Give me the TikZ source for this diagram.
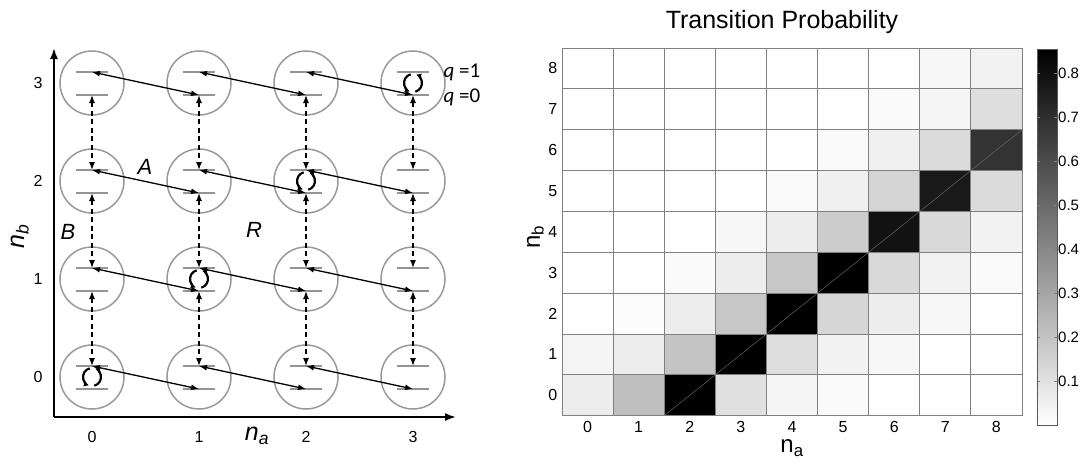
\documentclass[tikz,border=0pt]{standalone}
\usepackage{fontspec}
\setmainfont{Liberation Sans}
\newfontfamily\qfont{Carlito}
\usetikzlibrary{arrows.meta}

\tikzset{
  site/.style={circle,draw=black!40,line width=1.5pt,minimum size=64pt,inner sep=0pt},
  lvl/.style={black!42,line width=2.6pt},
  trans/.style={{Latex[length=8pt,width=6pt]}-{Latex[length=8pt,width=6pt]},line width=1.3pt},
  hop/.style={trans,dash pattern=on 5pt off 3.5pt},
  spin/.style={-{Latex[length=5pt,width=6pt]},line width=2.2pt},
  axis/.style={-{Latex[length=11pt,width=8pt]},line width=1.8pt},
  ticklab/.style={font=\fontsize{16}{16}\selectfont},
  letter/.style={font=\fontsize{22}{22}\selectfont\itshape},
  cell/.style={draw=black!50,line width=0.9pt}
}

\begin{document}
\begin{tikzpicture}[x=1pt,y=-1pt]
\useasboundingbox (0,0) rectangle (1085,464);

% ---- left: lattice of states
\draw[axis] (54,417) -- (54,48);
\draw[axis] (54,417) -- (456,417);
\foreach \i/\x in {0/92,1/199,2/306,3/413}
  \foreach \j/\y in {0/377,1/279,2/181,3/83} {
    \node[site] (s-\i-\j) at (\x,\y) {};
    \coordinate (u-\i-\j) at (\x,\y-11);
    \coordinate (l-\i-\j) at (\x,\y+12);
    \draw[lvl] (\x-16,\y-11) -- (\x+16,\y-11);
    \draw[lvl] (\x-16,\y+12) -- (\x+16,\y+12);
  }
\foreach \j in {0,...,3}
  \foreach \i/\k in {0/1,1/2,2/3}
    \draw[trans] (u-\i-\j) -- (l-\k-\j);
\foreach \i in {0,...,3}
  \foreach \j/\k in {0/1,1/2,2/3}
    \draw[hop] (l-\i-\k) -- (u-\i-\j);
% resonant sites
\foreach \i in {0,...,3} {
  \begin{scope}[shift={(s-\i-\i.center)},x=1pt,y=1pt]
    \draw[spin] (105:9) arc[start angle=105,end angle=250,radius=9];
    \draw[spin] (-75:9) arc[start angle=-75,end angle=70,radius=9];
  \end{scope}
}
\foreach \k/\x in {0/92,1/199,2/306,3/413}
  \node[ticklab] (xt-\k) at (\x,437) {\k};
\foreach \k/\y in {0/377,1/279,2/181,3/83}
  \node[ticklab] (yt-\k) at (38,\y) {\k};
\node[font=\fontsize{25}{25}\selectfont] (na) at (257,436) {\textit{n}\textsubscript{\textit{a}}};
\node[font=\fontsize{25}{25}\selectfont,rotate=90] (nb) at (20,236) {\textit{n}\textsubscript{\textit{b}}};
\node[letter] (lA) at (145,167) {A};
\node[letter] (lB) at (68,232) {B};
\node[letter] (lR) at (254,230) {R};
\node[anchor=west,font=\qfont\fontsize{21}{21}\selectfont] (q1) at (440,72) {\textit{q} =1};
\node[anchor=west,font=\qfont\fontsize{21}{21}\selectfont] (q0) at (440,97) {\textit{q} =0};

% ---- right: transition probability map
\node[font=\fontsize{25}{25}\selectfont] (title) at (782,22) {Transition Probability};
\begin{scope}[shift={(562pt,-415.7pt)},x=51.11pt,y=40.86pt]
  \foreach \row [count=\j from 0] in {{7,25,100,12,4,2,0,0,0},
      {4,7,23,100,13,5,3,0,0},{0,1,7,22,100,16,7,3,0},
      {0,0,2,7,22,100,15,5,2},{0,0,0,3,7,20,93,15,5},
      {0,0,0,0,2,6,17,90,14},{0,0,0,0,0,2,6,14,80},
      {0,0,0,0,0,0,2,4,13},{0,0,0,0,0,0,0,3,5}}
    \foreach \k [count=\i from 0] in \row
      \fill[black!\k] (\i,\j) rectangle ++(1,1);
  \draw[black!60,line width=0.5pt] (2,0) -- (9,7);
  \draw[cell,step=1] (0,0) grid (9,9);
  \foreach \k in {0,...,8} {
    \node[font=\fontsize{16}{16}\selectfont] (ct-\k) at (\k+0.5,-0.28) {\k};
    \node[font=\fontsize{16}{16}\selectfont] (rt-\k) at (-0.18,\k+0.5) {\k};
  }
  \node[font=\fontsize{24}{24}\selectfont] (hna) at (4.5,-0.8) {n\textsubscript{a}};
  \node[font=\fontsize{24}{24}\selectfont,rotate=90] (hnb) at (-0.52,4.37) {n\textsubscript{b}};
\end{scope}

% colour bar
\shade[bottom color=white,top color=black] (1037,425) rectangle (1057,49);
\foreach \v in {1,...,8} {
  \draw[black!50,line width=0.5pt] (1037,425-43.98*\v) -- ++(3,0);
  \draw[black!50,line width=0.5pt] (1057,425-43.98*\v) -- ++(-3,0);
  \node[anchor=west,inner sep=1pt,font=\fontsize{15}{15}\selectfont] (cb-\v) at (1057,425-43.98*\v) {0.\v};
}
\draw[black!65,line width=0.8pt] (1037,49) rectangle (1057,425);
\end{tikzpicture}
\end{document}
